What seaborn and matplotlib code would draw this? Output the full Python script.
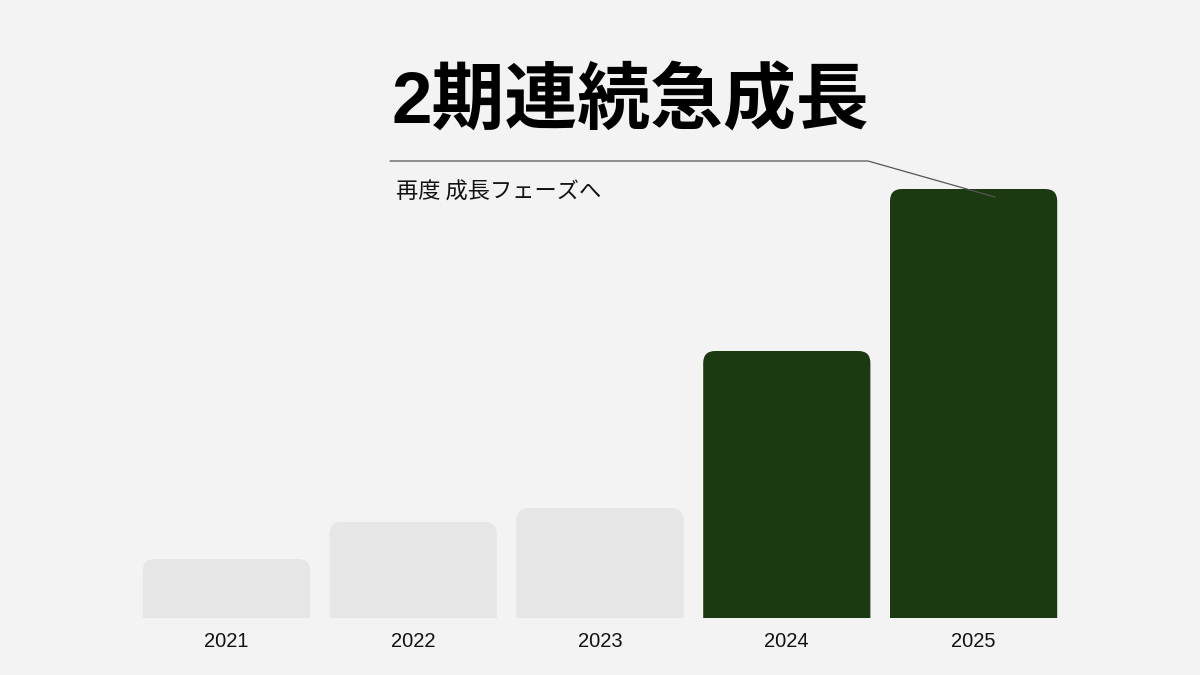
import seaborn as sns
import matplotlib.pyplot as plt
import pandas as pd
from matplotlib.patches import FancyBboxPatch

# bar values (relative)
years = ["2021", "2022", "2023", "2024", "2025"]
values = [59, 96, 110, 267, 429]
highlight = [False, False, False, True, True]

title_text = "2期連続急成長"
sub_text = "再度 成長フェーズへ"

bg = "#f3f3f3"
grey_bar = "#e6e6e6"
green_bar = "#1b3a12"

sns.set_theme(style="white")
plt.rcParams['font.family'] = ['Noto Sans CJK JP', 'DejaVu Sans']

df = pd.DataFrame({"year": years, "value": values,
                   "hl": ["on" if h else "off" for h in highlight]})

fig = plt.figure(figsize=(12, 6.75), dpi=100, facecolor=bg)
ax = fig.add_axes([133 / 1200, 1 - 618 / 675, 934 / 1200, (618 - 189) / 675])
ax.set_facecolor(bg)

sns.barplot(data=df, x="year", y="value", hue="hl",
            palette={"off": grey_bar, "on": green_bar},
            width=0.895, legend=False, ax=ax, saturation=1)
ax.set_xlim(-0.5, 4.5)
ax.set_ylim(0, max(values))

# swap the plain bars for ones with rounded top corners
px_x = 934 / 5                       # pixels per category unit
px_y = (618 - 189) / max(values)     # pixels per value unit
radius_px = 12
asp = px_x / px_y
for p in list(ax.patches):
    x0, w, h = p.get_x(), p.get_width(), p.get_height()
    if h <= 0:
        continue
    col = p.get_facecolor()
    p.set_visible(False)
    r = radius_px / px_x
    extra = 30 / px_y   # push the bottom corners below the axis, clipped away
    ax.add_patch(FancyBboxPatch((x0, -extra), w, h + extra,
                                boxstyle=f"round,pad=0,rounding_size={r}",
                                mutation_aspect=asp, facecolor=col,
                                edgecolor="none", zorder=2))

sns.despine(ax=ax, left=True, bottom=True)
ax.set_xlabel("")
ax.set_ylabel("")
ax.set_yticks([])
ax.tick_params(axis="x", length=0, pad=10, labelsize=14.5, colors="#111111")
for t in ax.get_xticklabels():
    t.set_fontfamily(["Liberation Sans", "DejaVu Sans"])

# title and callout
fig.text(392 / 1200, 1 - 104 / 675, title_text, fontsize=52.5, fontweight="bold",
         family=["Liberation Sans", "Noto Sans CJK JP"],
         color="#000000", ha="left", va="center")
fig.text(396 / 1200, 1 - 192 / 675, sub_text, fontsize=16,
         color="#111111", ha="left", va="center")
fig.add_artist(plt.Line2D([390 / 1200, 868 / 1200, 995 / 1200],
                          [1 - 161 / 675, 1 - 161 / 675, 1 - 197 / 675],
                          color="#555555", lw=0.9, zorder=5))

fig.savefig("out.png", dpi=100, facecolor=bg)
